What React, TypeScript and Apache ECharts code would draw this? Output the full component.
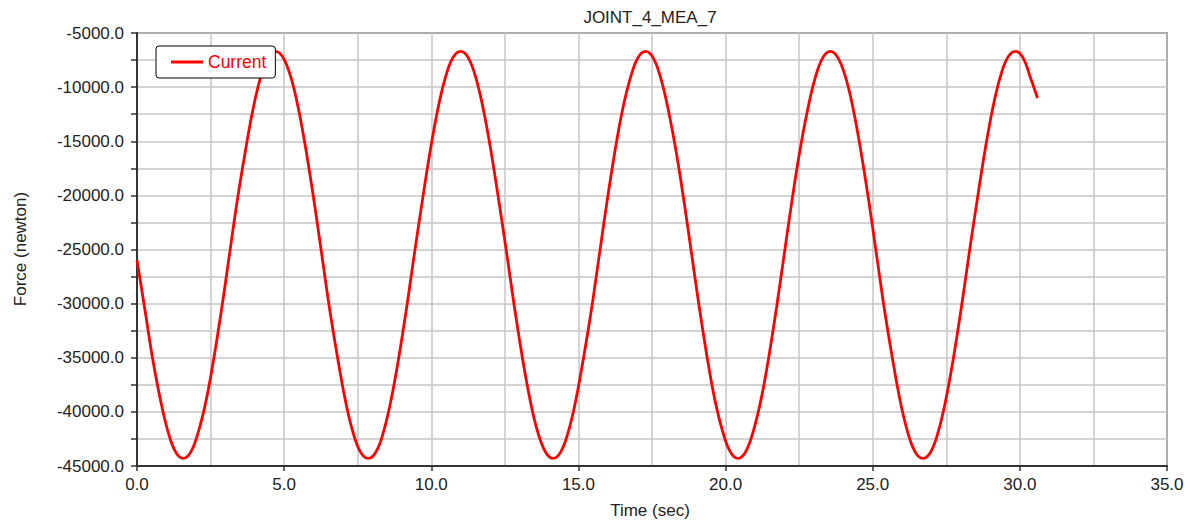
import React, { useEffect, useRef } from 'react';
import * as echarts from 'echarts';

const TITLE = 'JOINT_4_MEA_7';
const X_NAME = 'Time (sec)';
const Y_NAME = 'Force (newton)';
const SERIES_NAME = 'Current';

const times = [
  0.0, 0.26, 0.52, 0.79, 1.05, 1.31, 1.57, 1.83, 2.09, 2.36, 2.62, 2.88,
  3.14, 3.4, 3.67, 3.93, 4.19, 4.45, 4.71, 4.97, 5.24, 5.5, 5.76, 6.02,
  6.28, 6.54, 6.81, 7.07, 7.33, 7.59, 7.85, 8.12, 8.38, 8.64, 8.9, 9.16,
  9.42, 9.69, 9.95, 10.21, 10.47, 10.73, 11.0, 11.26, 11.52, 11.78, 12.04, 12.3,
  12.57, 12.83, 13.09, 13.35, 13.61, 13.88, 14.14, 14.4, 14.66, 14.92, 15.18, 15.45,
  15.71, 15.97, 16.23, 16.49, 16.76, 17.02, 17.28, 17.54, 17.8, 18.06, 18.33, 18.59,
  18.85, 19.11, 19.37, 19.63, 19.9, 20.16, 20.42, 20.68, 20.94, 21.21, 21.47, 21.73,
  21.99, 22.25, 22.51, 22.78, 23.04, 23.3, 23.56, 23.82, 24.09, 24.35, 24.61, 24.87,
  25.13, 25.39, 25.66, 25.92, 26.18, 26.44, 26.7, 26.97, 27.23, 27.49, 27.75, 28.01,
  28.27, 28.54, 28.8, 29.06, 29.32, 29.58, 29.85, 30.11, 30.37, 30.6,
];

const forces = [
  -26000, -30400, -34900, -38800, -41800, -43700, -44300, -43700, -41800, -38800, -34900, -30400,
  -25500, -20600, -16100, -12200, -9200, -7300, -6700, -7300, -9200, -12200, -16100, -20600,
  -25500, -30400, -34900, -38800, -41800, -43700, -44300, -43700, -41800, -38800, -34900, -30400,
  -25500, -20600, -16100, -12200, -9200, -7300, -6700, -7300, -9200, -12200, -16100, -20600,
  -25500, -30400, -34900, -38800, -41800, -43700, -44300, -43700, -41800, -38800, -34900, -30400,
  -25500, -20600, -16100, -12200, -9200, -7300, -6700, -7300, -9200, -12200, -16100, -20600,
  -25500, -30400, -34900, -38800, -41800, -43700, -44300, -43700, -41800, -38800, -34900, -30400,
  -25500, -20600, -16100, -12200, -9200, -7300, -6700, -7300, -9200, -12200, -16100, -20600,
  -25500, -30400, -34900, -38800, -41800, -43700, -44300, -43700, -41800, -38800, -34900, -30400,
  -25500, -20600, -16100, -12200, -9200, -7300, -6700, -7300, -9200, -11000,
];

const FONT = '"Liberation Sans", Arial, sans-serif';
const TEXT_COLOR = '#222';
const GRID_COLOR = '#c6c6c6';
const AXIS_COLOR = '#333';

export default function App() {
  const ref = useRef<HTMLDivElement>(null);

  useEffect(() => {
    document.body.style.margin = '0';
    const chart = echarts.init(ref.current!, null, { renderer: 'svg' });
    const data = times.map((t, i) => [t, forces[i]]);
    chart.setOption({
      animation: false,
      backgroundColor: '#fff',
      textStyle: { fontFamily: FONT },
      grid: {
        left: 137,
        right: 23,
        top: 33,
        bottom: 57,
        show: true,
        borderColor: AXIS_COLOR,
        borderWidth: 1.5,
        backgroundColor: 'transparent',
      },
      legend: {
        left: 156,
        top: 46,
        padding: [7, 9, 7, 15],
        backgroundColor: '#fff',
        borderColor: '#000',
        borderWidth: 1,
        borderRadius: 3,
        itemWidth: 32,
        itemHeight: 3,
        data: [{ name: SERIES_NAME, icon: 'rect' }],
        textStyle: { color: '#ff0000', fontSize: 17.5, fontFamily: FONT },
      },
      xAxis: {
        type: 'value',
        min: 0,
        max: 35,
        interval: 5,
        axisLine: { show: true, lineStyle: { color: AXIS_COLOR, width: 2 } },
        axisTick: { show: true, length: 5, lineStyle: { color: AXIS_COLOR, width: 1.5 } },
        minorTick: { show: false, splitNumber: 2 },
        axisLabel: {
          margin: 10,
          color: TEXT_COLOR,
          fontSize: 17,
          fontFamily: FONT,
          formatter: (v: number) => v.toFixed(1),
        },
        splitLine: { show: true, lineStyle: { color: GRID_COLOR, width: 1.5 } },
        minorSplitLine: { show: true, lineStyle: { color: GRID_COLOR, width: 1.5 } },
      },
      yAxis: {
        type: 'value',
        min: -45000,
        max: -5000,
        interval: 5000,
        axisLine: { show: true, lineStyle: { color: AXIS_COLOR, width: 2 } },
        axisTick: { show: true, length: 6, lineStyle: { color: AXIS_COLOR, width: 1.5 } },
        minorTick: { show: true, splitNumber: 2, length: 6, lineStyle: { color: AXIS_COLOR, width: 1.5 } },
        axisLabel: {
          margin: 13,
          color: TEXT_COLOR,
          fontSize: 17,
          fontFamily: FONT,
          formatter: (v: number) => v.toFixed(1),
        },
        splitLine: { show: true, lineStyle: { color: GRID_COLOR, width: 1.5 } },
        minorSplitLine: { show: true, lineStyle: { color: GRID_COLOR, width: 1.5 } },
      },
      graphic: [
        {
          type: 'text',
          x: 650,
          y: 17,
          style: {
            text: TITLE,
            fill: TEXT_COLOR,
            font: `17px ${FONT}`,
            textAlign: 'center',
            textVerticalAlign: 'middle',
          },
        },
        {
          type: 'text',
          x: 650,
          y: 510,
          style: {
            text: X_NAME,
            fill: TEXT_COLOR,
            font: `17px ${FONT}`,
            textAlign: 'center',
            textVerticalAlign: 'middle',
          },
        },
        {
          type: 'text',
          x: 20,
          y: 249,
          rotation: Math.PI / 2,
          style: {
            text: Y_NAME,
            fill: TEXT_COLOR,
            font: `17px ${FONT}`,
            textAlign: 'center',
            textVerticalAlign: 'middle',
          },
        },
      ],
      series: [
        {
          name: SERIES_NAME,
          type: 'line',
          data,
          symbol: 'none',
          smooth: 0.4,
          lineStyle: { color: '#ff0000', width: 2.8 },
          itemStyle: { color: '#ff0000' },
          z: 3,
        },
      ],
    });
    return () => chart.dispose();
  }, []);

  return <div ref={ref} style={{ width: 1190, height: 523 }} />;
}
